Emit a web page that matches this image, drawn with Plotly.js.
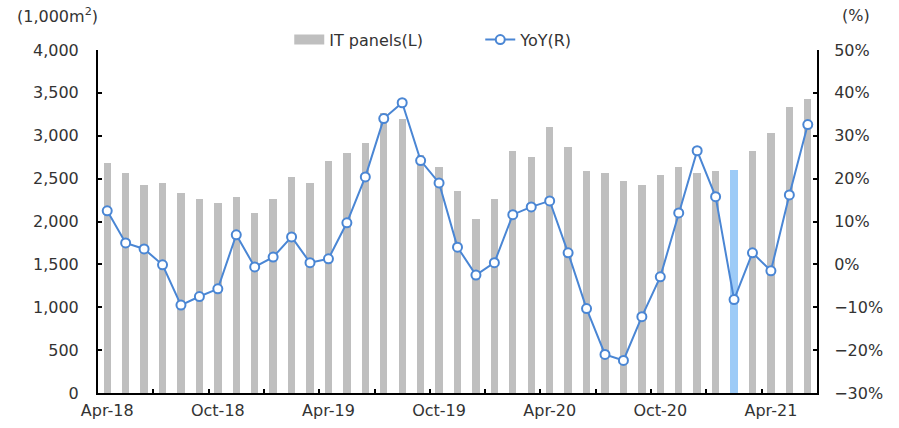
<!DOCTYPE html>
<html><head><meta charset="utf-8">
<script src="https://cdn.plot.ly/plotly-3.0.1.min.js"></script>
<style>html,body{margin:0;padding:0;background:#fff}#chart{width:899px;height:428px}</style>
</head><body><div id="chart"></div>
<script>
var months = ["Apr-18","May-18","Jun-18","Jul-18","Aug-18","Sep-18","Oct-18","Nov-18","Dec-18","Jan-19","Feb-19","Mar-19",
"Apr-19","May-19","Jun-19","Jul-19","Aug-19","Sep-19","Oct-19","Nov-19","Dec-19","Jan-20","Feb-20","Mar-20",
"Apr-20","May-20","Jun-20","Jul-20","Aug-20","Sep-20","Oct-20","Nov-20","Dec-20","Jan-21","Feb-21","Mar-21",
"Apr-21","May-21","Jun-21"];
var itPanels = [2680,2560,2420,2445,2330,2260,2210,2280,2095,2260,2515,2445,2700,2795,2910,3260,3190,2770,2630,2350,2025,2260,2820,2750,3100,2865,2585,2560,2470,2420,2540,2630,2560,2585,2600,2820,3030,3330,3425];
var yoy = [12.5,5.0,3.6,-0.1,-9.5,-7.5,-5.7,6.9,-0.6,1.7,6.4,0.4,1.3,9.7,20.4,34.0,37.7,24.2,19.0,4.0,-2.5,0.4,11.6,13.4,14.8,2.7,-10.3,-21.0,-22.4,-12.2,-2.9,12.0,26.5,15.8,-8.2,2.7,-1.5,16.2,32.6];
var highlightMonth = "Feb-21";
var labelMonths = ["Apr-18","Oct-18","Apr-19","Oct-19","Apr-20","Oct-20","Apr-21"];
var seriesNames = ["IT panels(L)", "YoY(R)"];

var idx = months.map(function(m,i){return i;});
var barColors = months.map(function(m){return m===highlightMonth ? "#9DCBF7" : "#BFBFBF";});
var labelVals = labelMonths.map(function(m){return months.indexOf(m);});
var minorTicks = [];
for (var k = 2.5; k < months.length - 1; k += 3) minorTicks.push(k);

var FONT = "DejaVu Sans, Liberation Sans, sans-serif";
var TXT = "#333333";
var BLUE = "#4A86D4";
var GRAY = "#BFBFBF";

var traces = [
  {type:"bar", name:seriesNames[0], x:idx, y:itPanels, marker:{color:barColors}, width:0.4,
   xaxis:"x", yaxis:"y", showlegend:false, legendgroup:"bars"},
  {type:"scatter", mode:"lines", name:seriesNames[0], x:[null], y:[null], xaxis:"x", yaxis:"y",
   line:{color:GRAY, width:10}, legendgroup:"bars", hoverinfo:"skip"},
  {type:"scatter", mode:"lines+markers", name:seriesNames[1], x:idx, y:yoy, xaxis:"x", yaxis:"y2",
   line:{color:BLUE, width:2}, marker:{symbol:"circle", size:9, color:"#ffffff", line:{color:BLUE, width:2}}},
  {type:"scatter", mode:"markers", x:[null], y:[null], xaxis:"x2", yaxis:"y", showlegend:false, hoverinfo:"skip"}
];

var layout = {
  width:899, height:428,
  margin:{l:98, r:82, t:50, b:35},
  paper_bgcolor:"#fff", plot_bgcolor:"#fff",
  font:{family:FONT, size:16, color:TXT},
  showlegend:true,
  legend:{orientation:"h", x:0.266, xanchor:"left", y:1.03, yanchor:"middle", traceorder:"normal",
          font:{family:FONT, size:16, color:TXT}, itemwidth:30, entrywidth:146, bgcolor:"rgba(0,0,0,0)"},
  bargap:0,
  xaxis:{type:"linear", range:[-0.5, months.length-0.5], tickmode:"array", tickvals:labelVals,
         ticktext:labelMonths, ticks:"", showgrid:false, zeroline:false, showline:true,
         linecolor:"#000", linewidth:2, tickfont:{family:FONT, size:16, color:TXT}, ticklabelstandoff:2},
  xaxis2:{type:"linear", overlaying:"x", anchor:"y", range:[-0.5, months.length-0.5], tickmode:"array",
          tickvals:minorTicks, ticks:"inside", ticklen:4, tickwidth:2, tickcolor:"#000",
          showticklabels:false, showgrid:false, zeroline:false, showline:false},
  yaxis:{range:[0,4000], dtick:500, tickformat:",", ticks:"inside", ticklen:4, tickwidth:2, tickcolor:"#000",
         showgrid:false, zeroline:false, showline:true, linecolor:"#000", linewidth:2,
         tickfont:{family:FONT, size:16, color:TXT}, ticklabelstandoff:14},
  yaxis2:{range:[-30,50], dtick:10, ticksuffix:"%", overlaying:"y", side:"right", anchor:"x",
          ticks:"inside", ticklen:4, tickwidth:2, tickcolor:"#000", showgrid:false, zeroline:false,
          showline:true, linecolor:"#000", linewidth:2, tickfont:{family:FONT, size:16, color:TXT}, ticklabelstandoff:12},
  annotations:[
    {text:"(1,000m<sup>2</sup>)", xref:"paper", yref:"paper", x:-0.115, y:1.1, xanchor:"left", yanchor:"middle",
     showarrow:false, font:{family:FONT, size:16, color:TXT}},
    {text:"(%)", xref:"paper", yref:"paper", x:1.032, y:1.1, xanchor:"left", yanchor:"middle",
     showarrow:false, font:{family:FONT, size:16, color:TXT}}
  ]
};

Plotly.newPlot("chart", traces, layout, {displayModeBar:false, responsive:false});
</script>
</body></html>
